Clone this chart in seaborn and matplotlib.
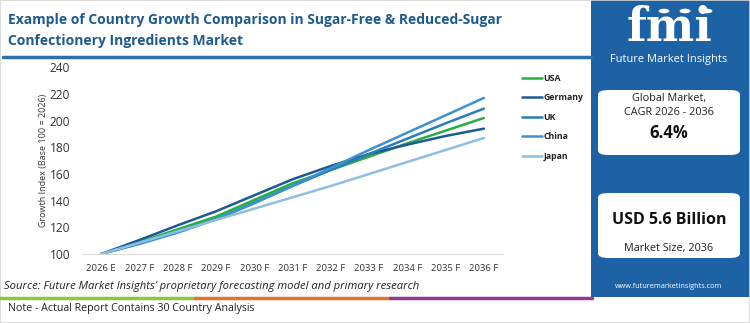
import matplotlib
matplotlib.use("Agg")
import matplotlib.pyplot as plt
from matplotlib.patches import Rectangle, FancyBboxPatch, Circle
from matplotlib.lines import Line2D
import seaborn as sns
import pandas as pd
import numpy as np

years = ["2026 E", "2027 F", "2028 F", "2029 F", "2030 F", "2031 F",
         "2032 F", "2033 F", "2034 F", "2035 F", "2036 F"]
usa = [100, 109, 118.5, 128, 140.5, 153, 163, 173, 183, 192.5, 202]
germany = [100, 110.5, 121.5, 132, 144, 156, 166, 175, 182, 188.5, 194]
uk = [100, 108, 117, 126, 138.5, 151, 163, 175, 186.5, 198, 209]
china = [100, 107.5, 116, 126, 138, 151, 164.5, 178, 191, 204, 217]
japan = [100, 108.5, 117, 125.5, 134, 142.5, 151, 160, 169, 178, 187]
countries = ["USA", "Germany", "UK", "China", "Japan"]
colors = ["#27ae3f", "#1a5a96", "#2b7bba", "#3b92d1", "#8fbfe0"]

series = dict(zip(countries, [usa, germany, uk, china, japan]))
rows = []
for c, vals in series.items():
    for i, v in enumerate(vals):
        rows.append({"idx": i, "year": years[i], "country": c, "value": v})
df = pd.DataFrame(rows)

sns.set_theme(style="white")
plt.rcParams["font.family"] = ["Open Sans", "DejaVu Sans"]

W, H = 750, 323
fig = plt.figure(figsize=(W / 100, H / 100), dpi=100)
fig.patch.set_facecolor("white")

def fx(px):
    return px / W

def fy(py):
    return 1 - py / H

ax = fig.add_axes([fx(82), fy(254), fx(503) - fx(82), fy(67.3) - fy(254)])
palette = dict(zip(countries, colors))
sns.lineplot(data=df, x="idx", y="value", hue="country", palette=palette,
             hue_order=countries, linewidth=1.8, ax=ax, legend=False)
ax.set_xlim(-0.5, len(years) - 0.5)
ax.set_ylim(100, 240)
ax.set_yticks(range(100, 241, 20))
ax.set_yticklabels([str(v) for v in range(100, 241, 20)], fontsize=8.6, color="#333333")
ax.set_xticks(range(len(years)))
ax.set_xticklabels(years, fontsize=6.8, color="#333333")
ax.set_xticks(np.arange(0.5, len(years) - 0.5, 1), minor=True)
ax.tick_params(axis="x", which="major", length=0, pad=7)
ax.tick_params(axis="x", which="minor", length=5, color="#dddddd", width=0.8)
ax.tick_params(axis="y", length=0, pad=8.5)
for s in ["top", "right", "left"]:
    ax.spines[s].set_visible(False)
ax.spines["bottom"].set_color("#dddddd")
ax.spines["bottom"].set_linewidth(0.8)
ax.set_xlabel("")
ax.set_ylabel("Growth Index (Base 100 = 2026)", fontsize=6.5, color="#333333", labelpad=1)
ax.grid(False)

# legend
handles = [Line2D([0], [0], color=col, lw=1.8) for col in colors]
leg = fig.legend(handles, countries, loc="upper left",
                 bbox_to_anchor=(fx(514), fy(66)), frameon=False,
                 handlelength=2.3, handletextpad=0.15, labelspacing=1.2,
                 prop={"size": 6.3, "weight": "bold"})
for t in leg.get_texts():
    t.set_color("#222222")

# title
title_color = "#1e5a8e"
fig.text(fx(8), fy(20), "Example of Country Growth Comparison in Sugar-Free & Reduced-Sugar",
         fontsize=10, fontweight="bold", color=title_color, va="center", ha="left")
fig.text(fx(8), fy(41), "Confectionery Ingredients Market",
         fontsize=10, fontweight="bold", color=title_color, va="center", ha="left")
fig.add_artist(Line2D([fx(3), fx(592)], [fy(57), fy(57)], color="#2c6ea6", lw=2.5))

# source + color bar + note
fig.text(fx(4), fy(286), "Source: Future Market Insights\u2019 proprietary forecasting model and primary research",
         fontsize=8.1, style="italic", color="#222222", va="center", ha="left")
fig.add_artist(Line2D([fx(0), fx(195)], [fy(297.5), fy(297.5)], color="#8dc63f", lw=2.5))
fig.add_artist(Line2D([fx(195), fx(390)], [fy(297.5), fy(297.5)], color="#e8702a", lw=2.5))
fig.add_artist(Line2D([fx(390), fx(592)], [fy(297.5), fy(297.5)], color="#8e3a96", lw=2.5))
fig.text(fx(8), fy(309), "Note - Actual Report Contains 30 Country Analysis",
         fontsize=7.7, color="#222222", va="center", ha="left")

# right panel
panel_color = "#1c62a5"
fig.add_artist(Rectangle((fx(591), fy(297)), fx(750) - fx(591), fy(0) - fy(297),
                         transform=fig.transFigure, facecolor=panel_color, edgecolor="none"))
fig.text(fx(670), fy(28), "fmi", fontsize=33, fontweight="bold", color="white",
         va="center", ha="center", family=["DejaVu Serif"])
for yy in np.arange(14, 50, 4.0):
    fig.add_artist(Line2D([fx(612), fx(728)], [fy(yy), fy(yy)], color=panel_color, lw=0.9))
for cx in (664, 685, 707):
    fig.add_artist(Circle((fx(cx), fy(11)), radius=0.0072, transform=fig.transFigure,
                          facecolor="white", edgecolor="none"))
fig.text(fx(669), fy(59.5), "Future Market Insights", fontsize=7.9, color="white",
         va="center", ha="center")

for (y0, y1) in ((90, 155), (193, 258)):
    fig.add_artist(FancyBboxPatch((fx(598), fy(y1)), fx(740) - fx(598), fy(y0) - fy(y1),
                                  boxstyle="round,pad=0,rounding_size=0.014",
                                  transform=fig.transFigure, facecolor="white",
                                  edgecolor="none"))
fig.text(fx(669), fy(99), "Global Market,", fontsize=7.8, color="#222222", va="center", ha="center")
fig.text(fx(669), fy(112.5), "CAGR 2026 - 2036", fontsize=7.8, color="#222222", va="center", ha="center")
fig.text(fx(669), fy(133), "6.4%", fontsize=12, fontweight="bold", color="#111111", va="center", ha="center")
fig.text(fx(669), fy(220), "USD 5.6 Billion", fontsize=11.5, fontweight="bold", color="#111111", va="center", ha="center")
fig.text(fx(669), fy(249), "Market Size, 2036", fontsize=7.8, color="#222222", va="center", ha="center")
fig.text(fx(669), fy(286), "www.futuremarketinsights.com", fontsize=5.2, color="white", va="center", ha="center")

# outer border
fig.add_artist(Rectangle((0, 0), 1, 1, transform=fig.transFigure, facecolor="none",
                         edgecolor="#d5d5d5", lw=1.2))

fig.savefig("out.png", dpi=100)
